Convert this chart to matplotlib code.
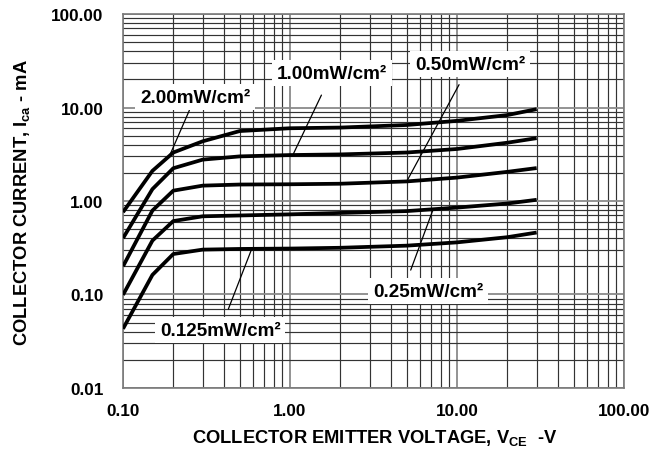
import numpy as np
import matplotlib
matplotlib.use("Agg")
import matplotlib.pyplot as plt
from matplotlib.ticker import FixedLocator, LogLocator, NullFormatter, FuncFormatter

plt.rcParams["font.family"] = ["Liberation Sans", "DejaVu Sans"]
plt.rcParams["font.weight"] = "bold"
plt.rcParams["mathtext.fontset"] = "custom"
plt.rcParams["mathtext.bf"] = "Liberation Sans:bold"
plt.rcParams["mathtext.rm"] = "Liberation Sans:bold"
plt.rcParams["mathtext.default"] = "bf"

# ---------------------------------------------------------------------------
# data (Vce in V, Ica in mA)
# ---------------------------------------------------------------------------
vce = [0.1, 0.15, 0.2, 0.3, 0.5, 1.0, 2.0, 5.0, 10.0, 20.0, 30.0]

ica_2p00 = [0.76, 2.1, 3.3, 4.35, 5.6, 6.0, 6.1, 6.5, 7.2, 8.3, 9.6]
ica_1p00 = [0.40, 1.34, 2.24, 2.77, 3.0, 3.1, 3.15, 3.3, 3.6, 4.2, 4.7]
ica_0p50 = [0.20, 0.79, 1.29, 1.46, 1.5, 1.51, 1.53, 1.62, 1.78, 2.05, 2.25]
ica_0p25 = [0.099, 0.377, 0.61, 0.686, 0.70, 0.72, 0.745, 0.78, 0.85, 0.94, 1.03]
ica_0p125 = [0.043, 0.162, 0.271, 0.302, 0.307, 0.31, 0.316, 0.333, 0.361, 0.41, 0.46]

series = [ica_2p00, ica_1p00, ica_0p50, ica_0p25, ica_0p125]
labels = ["2.00mW/cm\u00b2", "1.00mW/cm\u00b2", "0.50mW/cm\u00b2",
          "0.25mW/cm\u00b2", "0.125mW/cm\u00b2"]
# where each leader line touches its curve (Vce value)
leader_vce = [0.19, 1.04, 5.0, 7.2, 0.59]
# label centres, axes fraction
label_pos = [(0.144, 0.778), (0.417, 0.842), (0.693, 0.866),
             (0.609, 0.259), (0.194, 0.155)]
# point on the label box where the leader starts, and the gap to it (pt)
leader_rel = [(0.5, 0.5), (0.5, 0.5), (0.5, 0.5), (0.3, 1.0), (0.5, 0.5)]
leader_gap = [0, 7, 6, 6, 6]

x_ticks = [0.1, 1, 10, 100]
y_ticks = [0.01, 0.1, 1, 10, 100]

# ---------------------------------------------------------------------------
fig = plt.figure(figsize=(6.7, 4.52), dpi=100)
ax = fig.add_axes([0.1836, 0.1394, 0.7477, 0.8274])
ax.set_xscale("log")
ax.set_yscale("log")
ax.set_xlim(0.1, 100)
ax.set_ylim(0.01, 100)

ax.xaxis.set_major_locator(FixedLocator(x_ticks))
ax.yaxis.set_major_locator(FixedLocator(y_ticks))
for axis in (ax.xaxis, ax.yaxis):
    axis.set_minor_locator(LogLocator(base=10, subs=np.arange(2, 10)))
    axis.set_minor_formatter(NullFormatter())
    axis.set_major_formatter(FuncFormatter(lambda v, p: f"{v:.2f}"))

ax.grid(True, which="minor", color="#333333", lw=0.85)
ax.grid(True, which="major", color="#8a8a8a", lw=1.3)
ax.set_axisbelow(True)
for s in ax.spines.values():
    s.set_color("#7a7a7a")
    s.set_linewidth(1.2)

ax.tick_params(which="both", length=0)
ax.tick_params(axis="x", pad=11, labelsize=12.3)
ax.tick_params(axis="y", pad=14, labelsize=12.3)

for ys in series:
    ax.plot(vce, ys, color="black", lw=2.7, solid_capstyle="butt", zorder=3)

for ys, lab, xv, pos, rel, gap in zip(series, labels, leader_vce, label_pos,
                                      leader_rel, leader_gap):
    yv = 10 ** np.interp(np.log10(xv), np.log10(vce), np.log10(ys))
    ax.annotate(lab, xy=(xv, yv), xycoords="data",
                xytext=pos, textcoords="axes fraction",
                ha="center", va="center", fontsize=13.6, fontweight="bold",
                bbox=dict(boxstyle="square,pad=0.25", fc="white", ec="none"),
                arrowprops=dict(arrowstyle="-", color="black", lw=0.9,
                                relpos=rel, shrinkA=gap, shrinkB=0),
                zorder=4)

ax.set_xlabel(r"COLLECTOR EMITTER VOLTAGE, V$_{CE}$  -V", fontsize=13.2,
              fontweight="bold")
ax.set_ylabel(r"COLLECTOR CURRENT, I$_{ca}$ - mA", fontsize=13.2,
              fontweight="bold")
ax.xaxis.set_label_coords(0.503, -0.131)
ax.xaxis.label.set_va("center")
ax.yaxis.set_label_coords(-0.2016, 0.5)
ax.yaxis.label.set_va("center")

fig.savefig("out.png", dpi=100)
